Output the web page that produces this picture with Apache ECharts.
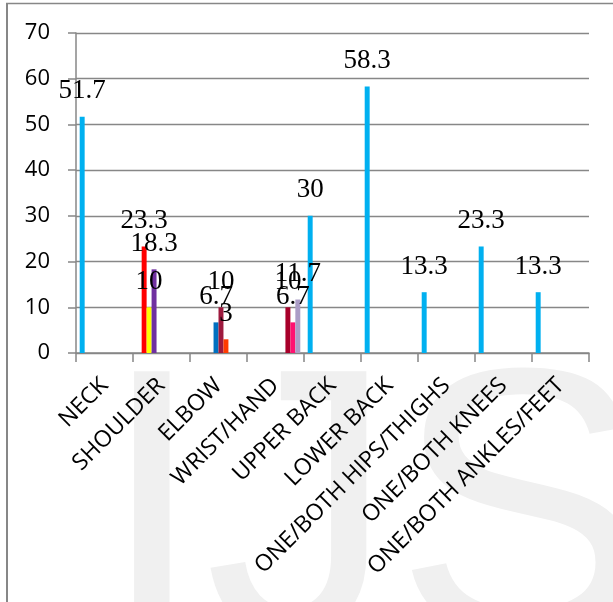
<!DOCTYPE html>
<html>
<head>
<meta charset="utf-8">
<script src="https://cdn.jsdelivr.net/npm/echarts@6/dist/echarts.min.js"></script>
<style>
  html, body { margin: 0; padding: 0; background: #fff; }
  #chart { width: 613px; height: 602px; }
</style>
</head>
<body>
<div id="chart"></div>
<script>
// Body regions on the category axis
const categories = ['NECK', 'SHOULDER', 'ELBOW', 'WRIST/HAND', 'UPPER BACK', 'LOWER BACK',
  'ONE/BOTH HIPS/THIGHS', 'ONE/BOTH KNEES', 'ONE/BOTH ANKLES/FEET'];

// Value axis ticks
const yTicks = { min: 0, max: 70, step: 10 };

// One series per bar slot (percentages)
const neckBackLegs  = [51.7, null, null, null, 30, 58.3, 13.3, 23.3, 13.3];
const shoulderA     = [null, 23.3, null, null, null, null, null, null, null];
const shoulderB     = [null, 10, null, null, null, null, null, null, null];
const shoulderC     = [null, 18.3, null, null, null, null, null, null, null];
const elbowA        = [null, null, 6.7, null, null, null, null, null, null];
const elbowB        = [null, null, 10, null, null, null, null, null, null];
const elbowC        = [null, null, 3, null, null, null, null, null, null];
const wristA        = [null, null, null, 10, null, null, null, null, null];
const wristB        = [null, null, null, 6.7, null, null, null, null, null];
const wristC        = [null, null, null, 11.7, null, null, null, null, null];

const slots = [
  { data: neckBackLegs, color: '#00B0F0' },
  { data: shoulderA, color: '#FF0000' },
  { data: shoulderB, color: '#FFFF00' },
  { data: shoulderC, color: '#7030A0' },
  { data: elbowA, color: '#0070C0' },
  { data: elbowB, color: '#9E1A3E' },
  { data: elbowC, color: '#FF3B00' },
  { data: wristA, color: '#A8002A' },
  { data: wristB, color: '#FF1170' },
  { data: wristC, color: '#AB9DC6' }
];

const gray = '#878787';

const chart = echarts.init(document.getElementById('chart'), null, { renderer: 'canvas' });

chart.setOption({
  backgroundColor: '#ffffff',
  animation: false,
  graphic: [
    {
      // faint watermark lettering behind the axis labels
      type: 'text',
      z: 0,
      silent: true,
      left: 99,
      top: 338,
      style: {
        text: 'IJS',
        fontFamily: 'Liberation Sans',
        fontSize: 380,
        fill: '#f0f0f0'
      }
    },
    {
      // outer frame: left and top edges
      type: 'group',
      z: 1,
      silent: true,
      children: [
        { type: 'line', shape: { x1: 7, y1: 3, x2: 7, y2: 602 }, style: { stroke: gray, lineWidth: 2 } },
        { type: 'line', shape: { x1: 6, y1: 3.5, x2: 613, y2: 3.5 }, style: { stroke: gray, lineWidth: 1.5 } }
      ]
    }
  ],
  grid: { left: 76, right: 24, top: 33, bottom: 249, containLabel: false },
  xAxis: {
    type: 'category',
    data: categories,
    boundaryGap: true,
    axisLine: { show: true, lineStyle: { color: gray, width: 1.5 } },
    axisTick: { show: true, length: 9, lineStyle: { color: gray, width: 1.5 } },
    axisLabel: {
      interval: 0,
      rotate: 45,
      margin: 29,
      fontFamily: 'Open Sans',
      fontSize: 23,
      color: '#000',
      padding: [27, 0, 0, 0]
    }
  },
  yAxis: {
    type: 'value',
    min: yTicks.min,
    max: yTicks.max,
    interval: yTicks.step,
    axisLine: { show: true, lineStyle: { color: gray, width: 1.5 } },
    axisTick: { show: true, length: 8, lineStyle: { color: gray, width: 1.5 } },
    splitLine: { show: true, lineStyle: { color: gray, width: 1.3 } },
    axisLabel: {
      margin: 26,
      fontFamily: 'Open Sans',
      fontSize: 22,
      color: '#000'
    }
  },
  series: slots.map(s => ({
    type: 'bar',
    data: s.data,
    barGap: '0%',
    barCategoryGap: '13%',
    itemStyle: { color: s.color },
    label: {
      show: true,
      position: 'top',
      distance: 12,
      fontFamily: 'Liberation Serif',
      fontSize: 27,
      color: '#000'
    }
  }))
});
</script>
</body>
</html>
